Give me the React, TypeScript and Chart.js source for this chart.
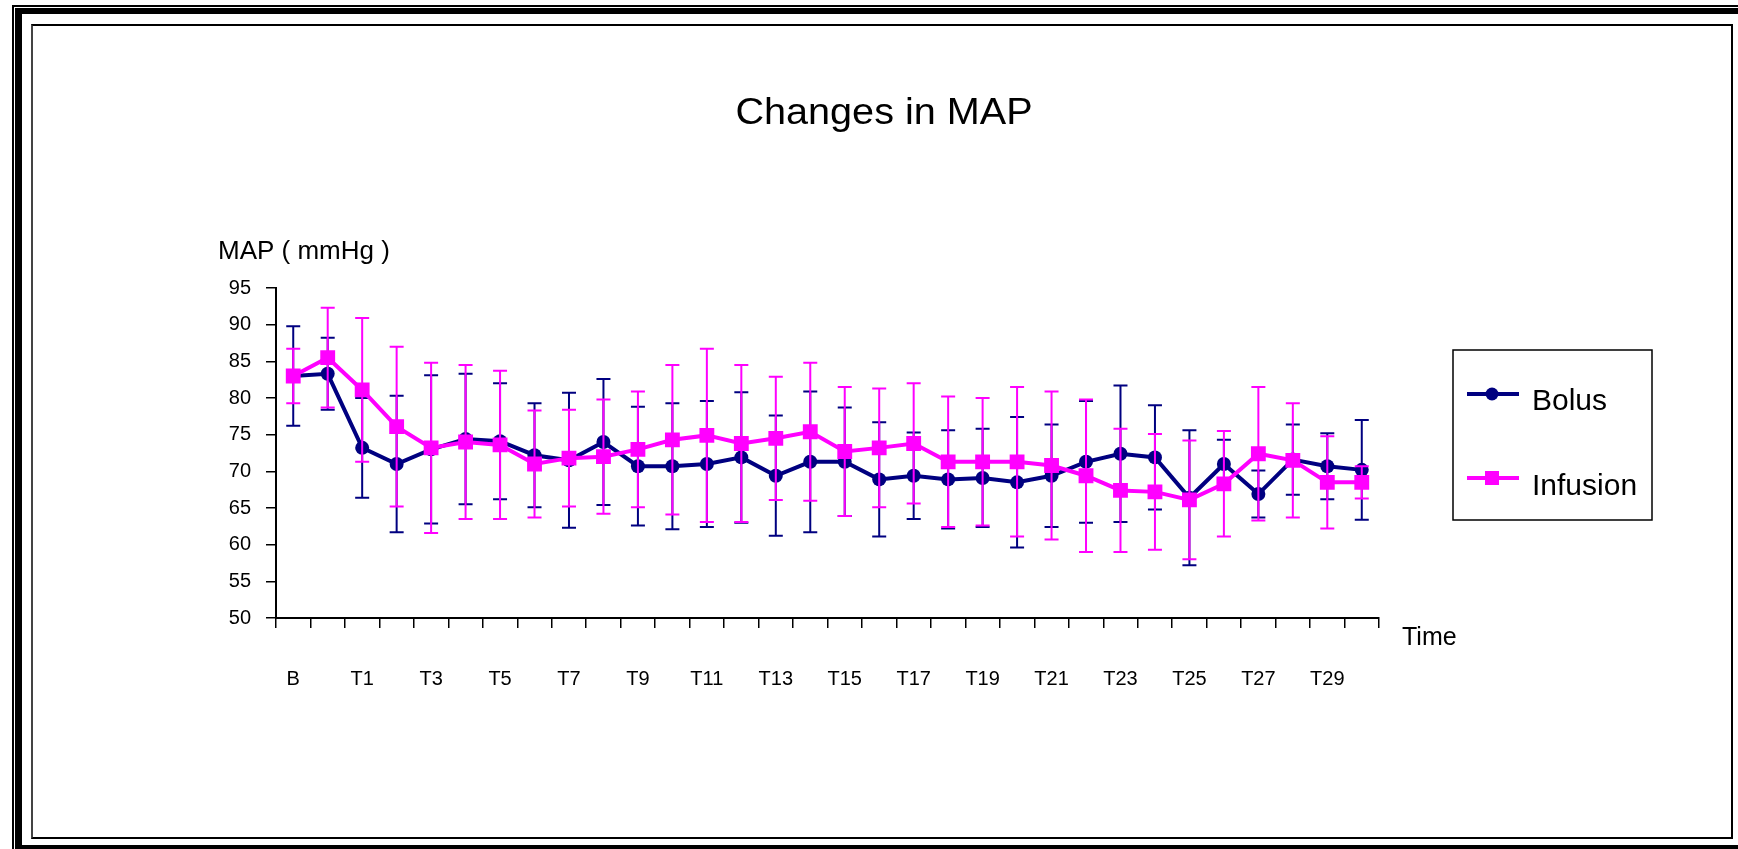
import React, { useEffect, useRef } from "react";
import { Chart, registerables } from "chart.js";

Chart.register(...registerables);

const categories = [
  "B", "T0", "T1", "T2", "T3", "T4", "T5", "T6", "T7", "T8", "T9", "T10",
  "T11", "T12", "T13", "T14", "T15", "T16", "T17", "T18", "T19", "T20",
  "T21", "T22", "T23", "T24", "T25", "T26", "T27", "T28", "T29", "T30",
];

const bolusMean = [
  83.0, 83.3, 73.2, 71.0, 73.0, 74.4, 74.1, 72.2, 71.5, 74.0, 70.7, 70.7,
  71.0, 71.9, 69.4, 71.3, 71.3, 68.9, 69.4, 68.9, 69.1, 68.5, 69.4, 71.3,
  72.4, 71.9, 66.4, 71.0, 66.9, 71.6, 70.7, 70.2,
];
const bolusSD = [
  6.8, 4.9, 6.8, 9.3, 10.1, 8.9, 7.9, 7.1, 9.2, 8.6, 8.1, 8.6,
  8.6, 8.9, 8.2, 9.6, 7.4, 7.8, 5.9, 6.7, 6.7, 8.9, 7.0, 8.3,
  9.3, 7.1, 9.2, 3.3, 3.2, 4.8, 4.5, 6.8,
];
const infusionMean = [
  83.0, 85.5, 81.1, 76.1, 73.2, 74.0, 73.6, 71.0, 71.8, 72.0, 73.0, 74.3,
  74.9, 73.8, 74.5, 75.4, 72.7, 73.2, 73.8, 71.3, 71.3, 71.3, 70.8, 69.4,
  67.4, 67.2, 66.1, 68.3, 72.4, 71.5, 68.5, 68.5,
];
const infusionSD = [
  3.7, 6.8, 9.8, 10.9, 11.6, 10.5, 10.1, 7.3, 6.6, 7.8, 7.9, 10.2,
  11.8, 10.7, 8.4, 9.4, 8.8, 8.1, 8.2, 8.9, 8.7, 10.2, 10.1, 10.4,
  8.4, 7.9, 8.1, 7.2, 9.1, 7.8, 6.3, 2.2,
];

const yMin = 50;
const yMax = 95;
const yStep = 5;

const chartTitle = "Changes in MAP";
const yTitle = "MAP ( mmHg )";
const xTitle = "Time";

const NAVY = "#000080";
const MAGENTA = "#FF00FF";
const FONT = "'Liberation Sans', Arial, sans-serif";

const errorBarPlugin = {
  id: "errorBars",
  beforeDatasetDraw(chart: any, args: any) {
    const ds: any = chart.data.datasets[args.index];
    const sds: number[] = ds.sd;
    if (!sds) return;
    const ctx = chart.ctx;
    const yScale = chart.scales.y;
    ctx.save();
    ctx.strokeStyle = ds.borderColor;
    ctx.lineWidth = 2;
    args.meta.data.forEach((pt: any, i: number) => {
      const m = ds.data[i] as number;
      const s = sds[i];
      const top = yScale.getPixelForValue(m + s);
      const bot = yScale.getPixelForValue(m - s);
      const x = pt.x;
      ctx.beginPath();
      ctx.moveTo(x, top);
      ctx.lineTo(x, bot);
      ctx.moveTo(x - 7, top);
      ctx.lineTo(x + 7, top);
      ctx.moveTo(x - 7, bot);
      ctx.lineTo(x + 7, bot);
      ctx.stroke();
    });
    ctx.restore();
  },
};

const textPlugin = {
  id: "texts",
  afterDraw(chart: any) {
    const ctx = chart.ctx;
    const area = chart.chartArea;
    ctx.save();
    ctx.fillStyle = "#000";
    ctx.textBaseline = "alphabetic";
    // title (slightly wide face as in the original)
    ctx.save();
    ctx.font = `37px ${FONT}`;
    ctx.textAlign = "center";
    ctx.translate(884, 124);
    ctx.scale(1.07, 1);
    ctx.fillText(chartTitle, 0, 0);
    ctx.restore();
    // y title
    ctx.font = `26px ${FONT}`;
    ctx.textAlign = "left";
    ctx.fillText(yTitle, 218, 259);
    // x title
    ctx.font = `25px ${FONT}`;
    ctx.fillText(xTitle, area.right + 23, 645);
    // legend
    const lx = 1453, ly = 350, lw = 199, lh = 170;
    ctx.strokeStyle = "#000";
    ctx.lineWidth = 1.5;
    ctx.strokeRect(lx, ly, lw, lh);
    const rows = [
      { y: 394, ds: chart.data.datasets[0], base: 410 },
      { y: 478, ds: chart.data.datasets[1], base: 495 },
    ];
    rows.forEach((r) => {
      const ds: any = r.ds;
      ctx.strokeStyle = ds.borderColor;
      ctx.lineWidth = 4;
      ctx.beginPath();
      ctx.moveTo(1467, r.y);
      ctx.lineTo(1519, r.y);
      ctx.stroke();
      ctx.fillStyle = ds.borderColor;
      if (ds.pointStyle === "rect") {
        ctx.fillRect(1492 - 7, r.y - 7, 14, 14);
      } else {
        ctx.beginPath();
        ctx.arc(1492, r.y, 6.5, 0, Math.PI * 2);
        ctx.fill();
      }
      ctx.fillStyle = "#000";
      ctx.font = `30px ${FONT}`;
      ctx.textAlign = "left";
      ctx.fillText(ds.label, 1532, r.base);
    });
    ctx.restore();
  },
};

export default function App() {
  const canvasRef = useRef<HTMLCanvasElement | null>(null);

  useEffect(() => {
    const canvas = canvasRef.current;
    if (!canvas) return;
    const chart = new Chart(canvas, {
      type: "line",
      data: {
        labels: categories,
        datasets: [
          {
            label: "Bolus",
            data: bolusMean,
            sd: bolusSD,
            borderColor: NAVY,
            backgroundColor: NAVY,
            borderWidth: 4,
            pointStyle: "circle",
            pointRadius: 7,
            pointBorderWidth: 0,
            pointBackgroundColor: NAVY,
            tension: 0,
            order: 2,
          } as any,
          {
            label: "Infusion",
            data: infusionMean,
            sd: infusionSD,
            borderColor: MAGENTA,
            backgroundColor: MAGENTA,
            borderWidth: 4,
            pointStyle: "rect",
            pointRadius: 10.5,
            pointBorderWidth: 0,
            pointBackgroundColor: MAGENTA,
            tension: 0,
            order: 1,
          } as any,
        ],
      },
      options: {
        responsive: false,
        animation: false,
        devicePixelRatio: 1,
        layout: { padding: { left: 196, top: 288, right: 359, bottom: 151 } },
        plugins: {
          legend: { display: false },
          title: { display: false },
          tooltip: { enabled: false },
        },
        scales: {
          x: {
            type: "category",
            offset: true,
            afterFit: (s: any) => {
              s.height = 80;
            },
            grid: {
              display: true,
              drawOnChartArea: false,
              drawTicks: true,
              tickLength: 10,
              color: "#000",
              lineWidth: 1.5,
              offset: true,
            },
            border: { display: true, color: "#000", width: 2 },
            ticks: {
              autoSkip: false,
              maxRotation: 0,
              minRotation: 0,
              padding: 39,
              color: "#000",
              font: { family: FONT, size: 20 },
              callback: function (this: any, _v: any, i: number) {
                return i % 2 === 0 ? categories[i] : "";
              },
            },
          },
          y: {
            min: yMin,
            max: yMax,
            afterFit: (s: any) => {
              s.width = 80;
            },
            grid: {
              display: true,
              drawOnChartArea: false,
              drawTicks: true,
              tickLength: 10,
              color: "#000",
              lineWidth: 1.5,
            },
            border: { display: true, color: "#000", width: 2 },
            ticks: {
              stepSize: yStep,
              padding: 15,
              color: "#000",
              font: { family: FONT, size: 20 },
            },
          },
        },
      } as any,
      plugins: [errorBarPlugin, textPlugin],
    });
    return () => chart.destroy();
  }, []);

  const box = (s: React.CSSProperties): React.CSSProperties => ({
    position: "absolute",
    background: "#000",
    ...s,
  });

  return (
    <div
      style={{
        position: "fixed",
        left: 0,
        top: 0,
        width: 1738,
        height: 849,
        background: "#fff",
        overflow: "hidden",
      }}
    >
      <div style={box({ left: 12, top: 5, width: 1726, height: 2 })} />
      <div style={box({ left: 15, top: 8, width: 1723, height: 6 })} />
      <div style={box({ left: 12, top: 5, width: 2, height: 844 })} />
      <div style={box({ left: 15, top: 8, width: 7, height: 841 })} />
      <div style={box({ left: 15, top: 845, width: 1723, height: 4 })} />
      <div
        style={{
          position: "absolute",
          left: 31,
          top: 24,
          width: 1698,
          height: 811,
          border: "2px solid #000",
          borderLeftColor: "#444",
        }}
      />
      <canvas
        ref={canvasRef}
        width={1738}
        height={849}
        style={{ position: "absolute", left: 0, top: 0, width: 1738, height: 849 }}
      />
    </div>
  );
}
